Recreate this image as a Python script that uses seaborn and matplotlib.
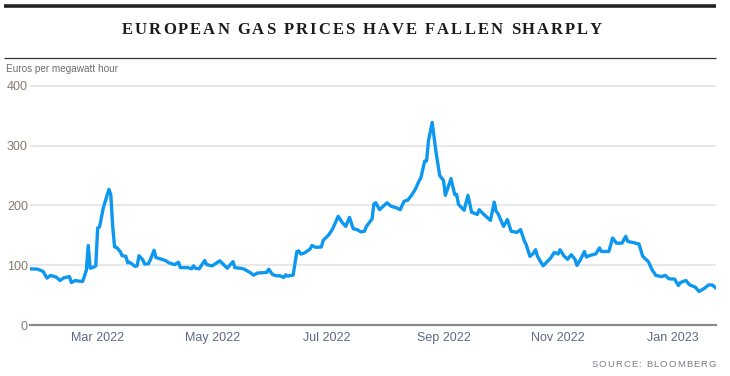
import matplotlib
matplotlib.use("Agg")
import matplotlib.pyplot as plt
import matplotlib.dates as mdates
from matplotlib.lines import Line2D
from matplotlib.font_manager import FontProperties, findfont
from matplotlib.ft2font import FT2Font
import pandas as pd
import seaborn as sns

# Dutch TTF front-month gas price
dates = [
    "2022-01-24", "2022-01-28", "2022-01-31", "2022-02-02", "2022-02-04", "2022-02-07",
    "2022-02-09", "2022-02-11", "2022-02-14", "2022-02-15", "2022-02-17", "2022-02-19",
    "2022-02-21", "2022-02-22", "2022-02-23", "2022-02-24", "2022-02-25", "2022-02-27",
    "2022-02-28", "2022-03-01", "2022-03-02", "2022-03-04", "2022-03-07", "2022-03-08",
    "2022-03-09", "2022-03-10", "2022-03-11", "2022-03-13", "2022-03-14", "2022-03-16",
    "2022-03-17", "2022-03-18", "2022-03-21", "2022-03-22", "2022-03-23", "2022-03-25",
    "2022-03-26", "2022-03-28", "2022-03-29", "2022-03-31", "2022-04-01", "2022-04-06",
    "2022-04-08", "2022-04-11", "2022-04-13", "2022-04-14", "2022-04-18", "2022-04-20",
    "2022-04-21", "2022-04-22", "2022-04-24", "2022-04-27", "2022-04-28", "2022-05-01",
    "2022-05-05", "2022-05-07", "2022-05-09", "2022-05-10", "2022-05-12", "2022-05-13",
    "2022-05-16", "2022-05-18", "2022-05-21", "2022-05-23", "2022-05-25", "2022-05-27",
    "2022-05-30", "2022-05-31", "2022-06-02", "2022-06-04", "2022-06-06", "2022-06-08",
    "2022-06-09", "2022-06-10", "2022-06-13", "2022-06-15", "2022-06-16", "2022-06-17",
    "2022-06-19", "2022-06-22", "2022-06-23", "2022-06-25", "2022-06-28", "2022-06-29",
    "2022-07-02", "2022-07-04", "2022-07-05", "2022-07-07", "2022-07-09", "2022-07-11",
    "2022-07-13", "2022-07-15", "2022-07-17", "2022-07-19", "2022-07-21", "2022-07-22",
    "2022-07-25", "2022-07-26", "2022-07-27", "2022-07-29", "2022-07-31", "2022-08-02",
    "2022-08-04", "2022-08-07", "2022-08-09", "2022-08-11", "2022-08-13", "2022-08-15",
    "2022-08-17", "2022-08-19", "2022-08-20", "2022-08-22", "2022-08-23", "2022-08-24",
    "2022-08-26", "2022-08-28", "2022-08-30", "2022-09-01", "2022-09-02", "2022-09-05",
    "2022-09-07", "2022-09-08", "2022-09-09", "2022-09-12", "2022-09-14", "2022-09-16",
    "2022-09-19", "2022-09-20", "2022-09-22", "2022-09-26", "2022-09-28", "2022-09-29",
    "2022-09-30", "2022-10-03", "2022-10-05", "2022-10-07", "2022-10-10", "2022-10-12",
    "2022-10-14", "2022-10-15", "2022-10-17", "2022-10-19", "2022-10-20", "2022-10-21",
    "2022-10-24", "2022-10-28", "2022-10-30", "2022-11-01", "2022-11-02", "2022-11-04",
    "2022-11-06", "2022-11-08", "2022-11-10", "2022-11-11", "2022-11-13", "2022-11-15",
    "2022-11-16", "2022-11-18", "2022-11-21", "2022-11-23", "2022-11-24", "2022-11-28",
    "2022-11-30", "2022-12-02", "2022-12-05", "2022-12-07", "2022-12-08", "2022-12-12",
    "2022-12-14", "2022-12-16", "2022-12-19", "2022-12-21", "2022-12-23", "2022-12-26",
    "2022-12-28", "2022-12-30", "2023-01-02", "2023-01-04", "2023-01-05", "2023-01-08",
    "2023-01-10", "2023-01-13", "2023-01-15", "2023-01-18", "2023-01-20", "2023-01-22",
    "2023-01-24",
]
prices = [
    94, 93.5, 89.6, 78.5, 83, 80,
    74.5, 79, 81, 71, 74.5, 73.4,
    73, 82, 92, 133, 95, 97,
    99, 162.5, 164, 196, 227, 218,
    165, 130.6, 130, 123, 116, 115,
    104, 105, 98, 99, 116, 109,
    102, 102.5, 109, 125, 113, 108,
    104, 101, 105, 96, 96, 94,
    99, 95, 94, 108, 101, 99,
    107.5, 101, 95, 99, 106, 96,
    95, 93.5, 88, 83.5, 87, 87.4,
    88, 93.5, 84.6, 82.4, 82.4, 79.5,
    84, 81.8, 83.5, 123, 124, 118.8,
    120.5, 127, 133, 130, 130.6, 141.7,
    151, 160.8, 168, 182, 172, 165,
    180, 161, 159.7, 155.8, 157, 165,
    177.6, 202.8, 204.5, 193, 199, 204.5,
    199, 196, 193, 207, 209, 217,
    227, 241, 246.6, 274.5, 274.5, 308,
    339, 290, 250, 242, 217, 245,
    218, 218.5, 201.7, 192, 217, 188.7,
    185, 193, 186.5, 175, 205.6, 190.5,
    186.5, 165, 176.5, 157, 155, 159.7,
    141, 134.5, 114.8, 120.5, 126, 115,
    99, 112, 121.5, 118.8, 126, 116,
    110, 117.6, 110, 99.7, 110, 123,
    113.8, 116.5, 118.8, 129, 123, 123,
    145.7, 137, 137, 148.4, 140, 137,
    135.6, 115, 106, 92.4, 83, 81,
    83, 77.3, 76.8, 66, 71, 74.5,
    67, 63.4, 56, 61.7, 67, 67,
    61.7,
]
y_ticks = [0, 100, 200, 300, 400]

W, H, DPI = 730, 376, 100
SANS = ["Liberation Sans", "DejaVu Sans"]
SERIF = ["Liberation Serif", "DejaVu Serif"]

sns.set_style("white")
plt.rcParams["font.family"] = SANS


def tracked_text(fig, x, y, s, tracking, family, size, weight="normal",
                 color="black", ha="left"):
    # letter-spaced text; x and y are pixels from the top-left corner, y is the baseline
    prop = FontProperties(family=family, size=size, weight=weight)
    font = FT2Font(findfont(prop))
    font.set_size(size, DPI)
    adv = [font.load_char(ord(c)).linearHoriAdvance / 65536 for c in s]
    total = sum(adv) + tracking * (len(s) - 1)
    if ha == "center":
        x -= total / 2
    elif ha == "right":
        x -= total
    for c, a in zip(s, adv):
        fig.text(x / W, 1 - y / H, c, fontproperties=prop, color=color,
                 ha="left", va="baseline")
        x += a + tracking


def hline(fig, x0, x1, y, lw, color):
    fig.add_artist(Line2D([x0 / W, x1 / W], [1 - y / H, 1 - y / H],
                          transform=fig.transFigure, lw=lw, color=color,
                          solid_capstyle="butt"))


df = pd.DataFrame({"date": pd.to_datetime(dates), "price": prices})

fig = plt.figure(figsize=(W / DPI, H / DPI), dpi=DPI)
ax_top, ax_bot = 83.6, 325
ax = fig.add_axes([30 / W, 1 - ax_bot / H, 686 / W, (ax_bot - ax_top) / H])

sns.lineplot(data=df, x="date", y="price", ax=ax, color="#0d98f0",
             linewidth=2.4, solid_joinstyle="round")

ax.set_xlim(pd.Timestamp("2022-01-24"), pd.Timestamp("2023-01-24"))
ax.set_ylim(0, 404)
ax.set_yticks(y_ticks)
ax.xaxis.set_major_locator(mdates.MonthLocator(bymonth=[1, 3, 5, 7, 9, 11]))
ax.xaxis.set_major_formatter(mdates.DateFormatter("%b %Y"))
ax.set_xlabel("")
ax.set_ylabel("")

ax.grid(axis="y", color="#e4e4e4", linewidth=1.2)
ax.grid(axis="x", visible=False)
for side in ["top", "right", "left"]:
    ax.spines[side].set_visible(False)
ax.spines["bottom"].set_color("#8a8a8a")
ax.spines["bottom"].set_linewidth(1.6)

ax.tick_params(axis="y", length=0, pad=1.5, labelsize=9, labelcolor="#857a70")
ax.tick_params(axis="x", length=3.5, width=1, color="#cfcfcf", pad=1.5,
               labelsize=9, labelcolor="#5c6a84")

# header rules, title, unit label and source
hline(fig, 4, 716, 6, 2.6, "#222222")
hline(fig, 4, 716, 57.5, 0.9, "#333333")
tracked_text(fig, 362, 34, "EUROPEAN GAS PRICES HAVE FALLEN SHARPLY", 2.0,
             SERIF, 12, weight="bold", color="#1c1c1c", ha="center")
fig.text(6 / W, 1 - 71.5 / H, "Euros per megawatt hour", family=SANS,
         size=7.2, color="#6e6e6e", ha="left", va="baseline")
tracked_text(fig, 716, 367, "SOURCE: BLOOMBERG", 1.1, SANS, 6.8,
             color="#7a7a86", ha="right")

fig.savefig("out.png", dpi=DPI)
plt.close(fig)
